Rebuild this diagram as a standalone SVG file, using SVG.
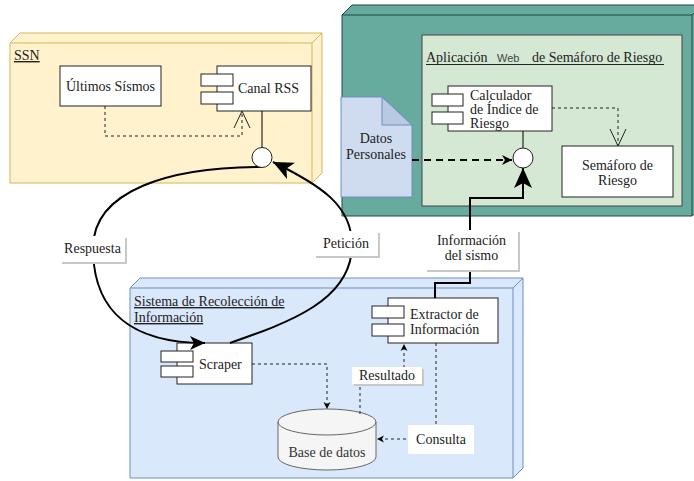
<svg xmlns="http://www.w3.org/2000/svg" width="694" height="481" viewBox="0 0 694 481">
<style>
text{font-family:"Liberation Serif","Times New Roman",serif;font-size:14px;fill:#222}
.c{text-anchor:middle}
.u{text-decoration:underline}
.box{fill:#fff;stroke:#222;stroke-width:1}
.line{fill:none;stroke:#000;stroke-width:2}
.dash{fill:none;stroke:#222;stroke-width:1;stroke-dasharray:3 3}
.shadow{fill:#c8c8c8}
.lbl{fill:#fff}
</style>
<defs>
<marker id="big" markerUnits="userSpaceOnUse" markerWidth="24" markerHeight="22" refX="20" refY="9" orient="auto" overflow="visible"><path d="M20,9 L0,0 L5,9 L0,18 Z" fill="#000"/></marker>
<marker id="mid" markerUnits="userSpaceOnUse" markerWidth="18" markerHeight="16" refX="15" refY="7" orient="auto" overflow="visible"><path d="M15,7 L0,0 L4,7 L0,14 Z" fill="#000"/></marker>
<marker id="dsh" markerUnits="userSpaceOnUse" markerWidth="12" markerHeight="12" refX="10" refY="5" orient="auto" overflow="visible"><path d="M10,5 L0,0 L3,5 L0,10 Z" fill="#000"/></marker>
<marker id="sm" markerUnits="userSpaceOnUse" markerWidth="8" markerHeight="8" refX="7" refY="3.5" orient="auto" overflow="visible"><path d="M7,3.5 L0,0 L2,3.5 L0,7 Z" fill="#000"/></marker>
<marker id="open" markerUnits="userSpaceOnUse" markerWidth="20" markerHeight="18" refX="17" refY="8" orient="auto" overflow="visible"><path d="M0,0 L17,8 L0,16" fill="none" stroke="#222" stroke-width="1"/></marker>
</defs>

<g id="ssn">
<path d="M10,43 L20,33 L322,33 L322,173 L312,183 L10,183 Z" fill="#fff2cc" stroke="#d6b656"/>
<path d="M10,43 L312,43 L312,183 M312,43 L322,33" fill="none" stroke="#d6b656"/>
<text x="14" y="60" class="u">SSN</text>
</g>

<g id="app-node">
<path d="M342,15 L352,5 L704,5 L704,206 L692,216 L342,216 Z" fill="#67ab9f" stroke="#1f4a42"/>
<path d="M342,15 L692,15 L692,216 M692,15 L702,5" fill="none" stroke="#1f4a42"/>
</g>

<g id="app">
<rect x="422" y="35" width="260" height="171" fill="#d5e8d4" stroke="#444"/>
<text x="426" y="62">Aplicación<tspan x="497" font-family="Liberation Sans, Arial, sans-serif" font-size="11" fill="#444">Web</tspan><tspan x="532">de Semáforo de Riesgo</tspan></text>
<line x1="426" y1="64.5" x2="664" y2="64.5" stroke="#222" stroke-width="1"/>
</g>

<g id="recoleccion">
<path d="M130,288 L140,278 L523,278 L523,468 L513,478 L130,478 Z" fill="#dae8fc" stroke="#6c8ebf"/>
<path d="M130,288 L513,288 L513,478 M513,288 L523,278" fill="none" stroke="#6c8ebf"/>
<text x="134" y="306" class="u">Sistema de Recolección de</text>
<text x="134" y="322" class="u">Información</text>
</g>

<g id="datos-personales">
<path d="M341,97 L382,97 L412,125 L412,197 L341,197 Z" fill="#cfdcf0" stroke="#6c8ebf"/>
<path d="M382,97 L382,125 L412,125 Z" fill="#b9c9e2" stroke="#6c8ebf"/>
<text x="376" y="143" class="c">Datos</text>
<text x="376" y="159" class="c">Personales</text>
</g>

<g id="ultimos-sismos">
<rect x="60" y="66" width="101" height="40" class="box"/>
<text x="110.5" y="91" class="c">Últimos Sísmos</text>
</g>

<g id="canal-rss">
<rect x="217" y="66" width="94" height="45" class="box"/>
<rect x="201" y="74" width="32" height="12" class="box"/>
<rect x="201" y="92" width="32" height="12" class="box"/>
<text x="238" y="93">Canal RSS</text>
</g>

<g id="calculador">
<rect x="448" y="86" width="104" height="45" class="box"/>
<rect x="432" y="94" width="31" height="12" class="box"/>
<rect x="432" y="112" width="31" height="12" class="box"/>
<text x="470" y="100">Calculador</text>
<text x="470" y="114">de Índice de</text>
<text x="470" y="128">Riesgo</text>
</g>

<g id="semaforo">
<rect x="562" y="146" width="111" height="51" class="box"/>
<text x="617.5" y="170" class="c">Semáforo de</text>
<text x="617.5" y="185" class="c">Riesgo</text>
</g>

<g id="scraper">
<rect x="177" y="343" width="75" height="41" class="box"/>
<rect x="161" y="351" width="32" height="11" class="box"/>
<rect x="161" y="366" width="32" height="11" class="box"/>
<text x="199" y="369">Scraper</text>
</g>

<g id="extractor">
<rect x="388" y="298" width="110" height="45" class="box"/>
<rect x="372" y="306" width="32" height="12" class="box"/>
<rect x="372" y="324" width="32" height="12" class="box"/>
<text x="410" y="319">Extractor de</text>
<text x="410" y="334">Información</text>
</g>

<g id="base-de-datos">
<path d="M278,422 A49,13 0 0 1 376,422 L376,457 A49,13 0 0 1 278,457 Z" fill="#f5f5f5" stroke="#666"/>
<path d="M278,422 A49,13 0 0 0 376,422" fill="none" stroke="#666"/>
<text x="327" y="457" class="c" style="fill:#333">Base de datos</text>
</g>

<g id="connectors">
<path d="M262,111 L262,148" class="line" style="stroke-width:1"/>
<path d="M523,131 L523,148" class="line" style="stroke-width:1"/>
<path d="M105,106 L105,136 L242,136 L242,111" class="dash" marker-end="url(#open)"/>
<path d="M552,108 L618,108 L618,146" class="dash" marker-end="url(#open)"/>
<path d="M412,160 L512,160" fill="none" stroke="#000" stroke-width="2" stroke-dasharray="7 5" marker-end="url(#dsh)"/>
<path d="M262,167 C170,167 93,190 93,248 C93,310 130,343 205,343" class="line" marker-end="url(#mid)"/>
<path d="M230,343 C290,322 352,300 352,245 C352,205 320,185 273,162" class="line" marker-end="url(#big)"/>
<path d="M435,298 L435,283 L470,283 L470,198 L523,198 L523,168" class="line" marker-end="url(#big)"/>
<path d="M252,364 L327,364 L327,409" class="dash" marker-end="url(#sm)"/>
<path d="M360,414 L360,375 L404,375 L404,344" class="dash" marker-end="url(#sm)"/>
<path d="M436,343 L436,439 L377,439" class="dash" marker-end="url(#sm)"/>
<rect x="62" y="238" width="65" height="26" class="shadow"/>
<rect x="60" y="236" width="65" height="26" class="lbl"/>
<text x="92.5" y="253" class="c">Respuesta</text>
<rect x="316" y="233" width="64" height="25" class="shadow"/>
<rect x="314" y="231" width="64" height="25" class="lbl"/>
<text x="346" y="248" class="c">Petición</text>
<rect x="427" y="232" width="93" height="40" class="shadow"/>
<rect x="425" y="230" width="93" height="40" class="lbl"/>
<text x="471.5" y="245" class="c">Información</text>
<text x="471.5" y="260" class="c">del sismo</text>
<rect x="354" y="369" width="70" height="17" class="shadow"/>
<rect x="352" y="367" width="70" height="17" class="lbl"/>
<text x="387" y="380" class="c">Resultado</text>
<rect x="408" y="425" width="66" height="29" class="lbl"/>
<text x="441" y="444" class="c">Consulta</text>
</g>

<g id="rss-interface">
<circle cx="262" cy="157.5" r="10" fill="#fff" stroke="#222"/>
</g>
<g id="calc-interface">
<circle cx="523" cy="158" r="10" fill="#fff" stroke="#222"/>
</g>
</svg>
